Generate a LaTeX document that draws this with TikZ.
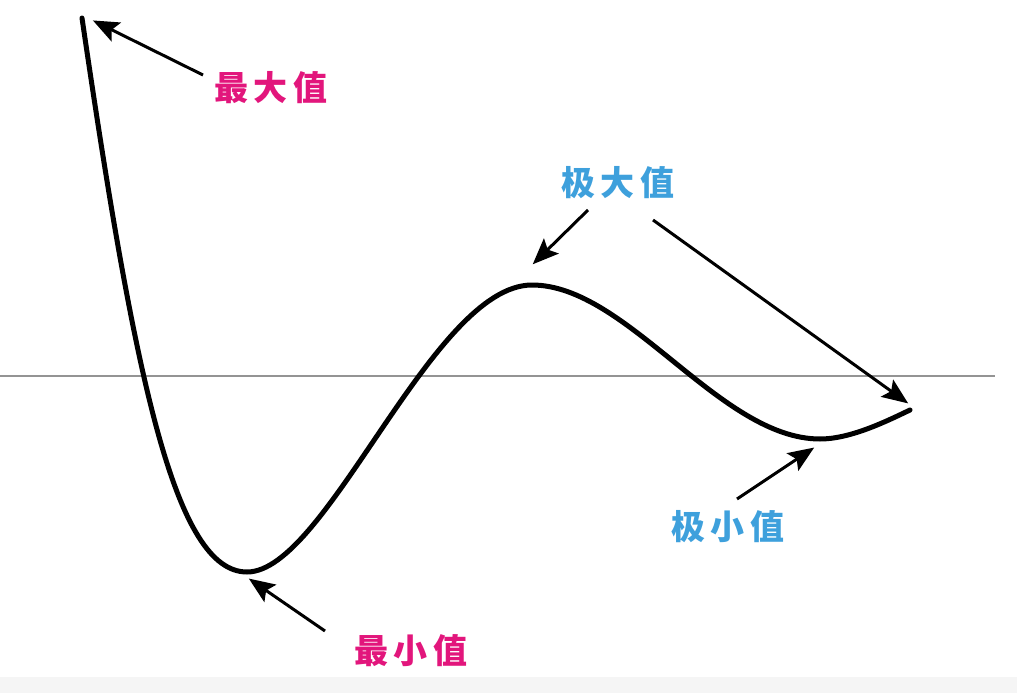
\documentclass[tikz,border=0pt]{standalone}
\usepackage{fontspec}
\newfontfamily\cjk{Noto Sans CJK SC}
\usetikzlibrary{arrows.meta}
\definecolor{maxred}{RGB}{226,22,124}
\definecolor{extblue}{RGB}{62,160,220}
\newcommand{\gap}{\hspace{6pt}}

\begin{document}
\begin{tikzpicture}[
      x=1pt, y=-1pt,
      curve/.style={line width=5pt, line cap=round, line join=round},
      pointer/.style={line width=3pt, -{Stealth[length=26pt, width=21pt, inset=5pt]}, shorten >=1pt},
      label/.style={font=\cjk\bfseries\fontsize{34}{34}\selectfont, inner sep=0pt},
      global/.style={label, text=maxred},
      local/.style={label, text=extblue}
    ]
    \useasboundingbox (0,0) rectangle (1017,693);
    \fill[black!4] (0,677) rectangle (1017,693);
    % axis
    \coordinate (axisL) at (0,376);
    \coordinate (axisR) at (995,376);
    \draw[line width=1.8pt, black!42] (axisL) -- (axisR);
    % curve
    \coordinate (top) at (82,18);
    \coordinate (low) at (247,572);
    \coordinate (peak) at (532,285);
    \coordinate (dip) at (820,439);
    \coordinate (end) at (910,410);
    \draw[curve] (top) .. controls (135,380) and (175,572) .. (low)
      .. controls (327,572) and (432,285) .. (peak)
      .. controls (627,285) and (720,439) .. (dip)
      .. controls (850,439) and (885,422) .. (end);
    % labels
    \node (gmax) [global] at (271,88) {最\gap 大\gap 值};
    \node (gmin) [global] at (411,651) {最\gap 小\gap 值};
    \node (lmax) [local] at (618,183) {极\gap 大\gap 值};
    \node (lmin) [local] at (728,527) {极\gap 小\gap 值};
    % arrows
    \coordinate (gmaxT) at (203,75);
    \coordinate (gmaxH) at (92,20);
    \coordinate (gminT) at (325,631);
    \coordinate (gminH) at (248,578);
    \coordinate (lmaxT1) at (588,210);
    \coordinate (lmaxH1) at (532,265);
    \coordinate (lmaxT2) at (653,220);
    \coordinate (lmaxH2) at (909,404);
    \coordinate (lminT) at (737,499);
    \coordinate (lminH) at (815,447);
    \draw[pointer] (gmaxT) -- (gmaxH);
    \draw[pointer] (gminT) -- (gminH);
    \draw[pointer] (lmaxT1) -- (lmaxH1);
    \draw[pointer] (lmaxT2) -- (lmaxH2);
    \draw[pointer] (lminT) -- (lminH);
  \end{tikzpicture}
\end{document}
